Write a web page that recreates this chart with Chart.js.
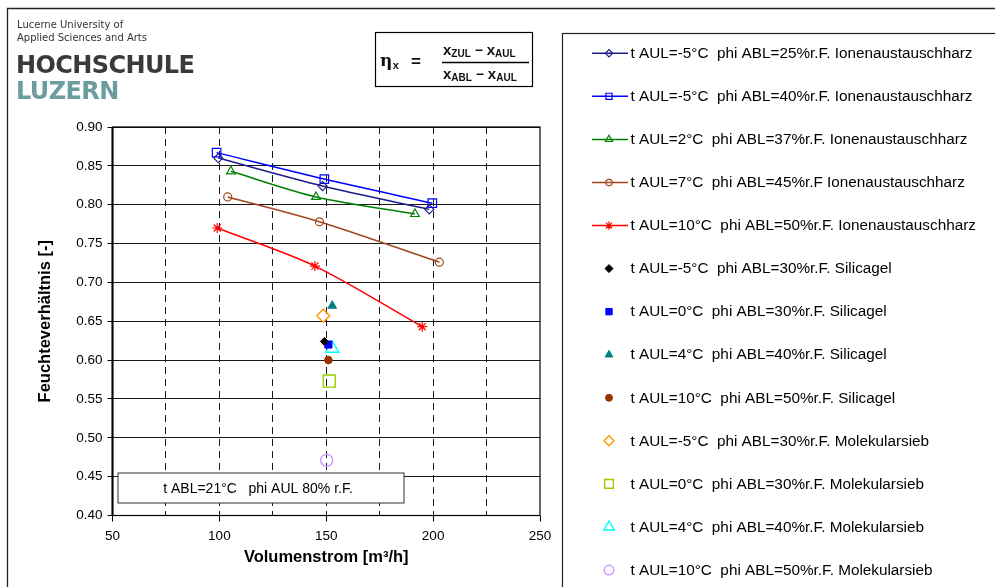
<!DOCTYPE html>
<html>
<head>
<meta charset="utf-8">
<script src="https://cdn.jsdelivr.net/npm/chart.js@4/dist/chart.umd.min.js"></script>
<style>
  html, body { margin: 0; padding: 0; background: #ffffff; }
  #wrap { position: relative; width: 995px; height: 587px; }
  canvas { display: block; }
</style>
</head>
<body>
<div id="wrap"><canvas id="chart" width="995" height="587"></canvas></div>
<script>
// Volumenstrom [m³/h] (x) and Feuchteverhältnis [-] (y) for each measurement series

// Ionenaustauschharz, measured at three flow rates
const ionA_x = [99.5, 148.3, 198.2];   // t AUL=-5°C, phi ABL=25%
const ionA_y = [0.860, 0.824, 0.794];
const ionB_x = [98.7, 149.1, 199.6];   // t AUL=-5°C, phi ABL=40%
const ionB_y = [0.867, 0.833, 0.802];
const ionC_x = [105.4, 145.2, 191.5];  // t AUL=2°C, phi ABL=37%
const ionC_y = [0.843, 0.810, 0.788];
const ionD_x = [103.9, 146.8, 202.9];  // t AUL=7°C, phi ABL=45%
const ionD_y = [0.810, 0.778, 0.726];
const ionE_x = [99.0, 144.7, 194.9];   // t AUL=10°C, phi ABL=50%
const ionE_y = [0.770, 0.721, 0.643];

// Silicagel, single measurements
const silA = [149.1, 0.624];  // -5°C / 30%
const silB = [151.0, 0.620];  // 0°C / 30%
const silC = [152.8, 0.670];  // 4°C / 40%
const silD = [151.0, 0.600];  // 10°C / 50%

// Molekularsieb, single measurements
const molA = [148.6, 0.657];  // -5°C / 30%
const molB = [151.4, 0.573];  // 0°C / 30%
const molC = [152.8, 0.615];  // 4°C / 40%
const molD = [150.2, 0.471];  // 10°C / 50%

const seriesLabels = [
  't AUL=-5°C  phi ABL=25%r.F. Ionenaustauschharz',
  't AUL=-5°C  phi ABL=40%r.F. Ionenaustauschharz',
  't AUL=2°C  phi ABL=37%r.F. Ionenaustauschharz',
  't AUL=7°C  phi ABL=45%r.F Ionenaustauschharz',
  't AUL=10°C  phi ABL=50%r.F. Ionenaustauschharz',
  't AUL=-5°C  phi ABL=30%r.F. Silicagel',
  't AUL=0°C  phi ABL=30%r.F. Silicagel',
  't AUL=4°C  phi ABL=40%r.F. Silicagel',
  't AUL=10°C  phi ABL=50%r.F. Silicagel',
  't AUL=-5°C  phi ABL=30%r.F. Molekularsieb',
  't AUL=0°C  phi ABL=30%r.F. Molekularsieb',
  't AUL=4°C  phi ABL=40%r.F. Molekularsieb',
  't AUL=10°C  phi ABL=50%r.F. Molekularsieb'
];

const xTickMin = 50, xTickMax = 250, xGridStep = 25, xLabelStep = 50;
const yTickMin = 0.40, yTickMax = 0.90, yTickStep = 0.05;

const xAxisTitle = 'Volumenstrom [m³/h]';
const yAxisTitle = 'Feuchteverhältnis [-]';
const noteText = 't ABL=21°C   phi AUL 80% r.F.';

const pts = (xs, ys) => xs.map((x, i) => ({ x: x, y: ys[i] }));
const one = (p) => [{ x: p[0], y: p[1] }];

function lineSeries(label, data, color, style, radius, legendRadius) {
  return {
    label, data, showLine: true, tension: 0.3,
    borderColor: color, borderWidth: 1.5,
    pointStyle: style, pointRadius: radius, pointHoverRadius: radius,
    pointBorderColor: color, pointBackgroundColor: 'rgba(255,255,255,0)',
    pointBorderWidth: 1.2, legendRadius, legendFill: 'rgba(255,255,255,0)'
  };
}
function markerSeries(label, data, color, style, radius, legendRadius, filled) {
  const fill = filled ? color : 'rgba(255,255,255,0)';
  return {
    label, data, showLine: false,
    borderColor: color, backgroundColor: fill,
    pointStyle: style, pointRadius: radius, pointHoverRadius: radius,
    pointBorderColor: color, pointBackgroundColor: fill,
    pointBorderWidth: filled ? 1 : 1.4, legendRadius, legendFill: fill
  };
}

const datasets = [
  lineSeries(seriesLabels[0], pts(ionA_x, ionA_y), '#1c1c8c', 'rectRot', 4.5, 3.6),
  lineSeries(seriesLabels[1], pts(ionB_x, ionB_y), '#0000ff', 'rect', 6, 4.4),
  lineSeries(seriesLabels[2], pts(ionC_x, ionC_y), '#008000', 'triangle', 5, 4.2),
  lineSeries(seriesLabels[3], pts(ionD_x, ionD_y), '#a0461e', 'circle', 4, 3.2),
  lineSeries(seriesLabels[4], pts(ionE_x, ionE_y), '#ff0000', 'star', 5, 4.2),
  markerSeries(seriesLabels[5], one(silA), '#000000', 'rectRot', 4, 4, true),
  markerSeries(seriesLabels[6], one(silB), '#0000ff', 'rect', 5, 4.5, true),
  markerSeries(seriesLabels[7], one(silC), '#008080', 'triangle', 5, 4.5, true),
  markerSeries(seriesLabels[8], one(silD), '#993300', 'circle', 3.8, 3.5, true),
  markerSeries(seriesLabels[9], one(molA), '#ff9900', 'rectRot', 6.5, 5, false),
  markerSeries(seriesLabels[10], one(molB), '#99cc00', 'rect', 8.5, 6.2, false),
  markerSeries(seriesLabels[11], one(molC), '#00ffff', 'triangle', 7.5, 6, false),
  markerSeries(seriesLabels[12], one(molD), '#cc99ff', 'circle', 6, 4.8, false)
];

const FONT = '"Liberation Sans", Arial, sans-serif';

// Frame of the plot area and the small note box inside it
const plotFrame = {
  id: 'plotFrame',
  beforeDatasetsDraw(chart) {
    const { ctx, chartArea: a } = chart;
    ctx.save();
    // note box
    const bx = a.left + 5.5, by = a.bottom - 42.5, bw = 286, bh = 30;
    ctx.fillStyle = '#ffffff';
    ctx.fillRect(bx, by, bw, bh);
    ctx.strokeStyle = '#333333';
    ctx.lineWidth = 1;
    ctx.strokeRect(bx, by, bw, bh);
    ctx.fillStyle = '#000000';
    ctx.font = '14px ' + FONT;
    ctx.textAlign = 'center';
    ctx.textBaseline = 'middle';
    ctx.fillText(noteText, bx + bw / 2 - 3, by + bh / 2 + 1);
    // plot border
    ctx.strokeStyle = '#000000';
    ctx.lineWidth = 1.2;
    ctx.strokeRect(a.left, a.top, a.right - a.left, a.bottom - a.top);
    ctx.lineWidth = 2;
    ctx.beginPath();
    ctx.moveTo(a.left, a.top);
    ctx.lineTo(a.left, a.bottom);
    ctx.stroke();
    ctx.restore();
  }
};

function fallbackPoint(ctx, o, x, y) {
  ctx.beginPath();
  ctx.arc(x, y, o.radius, 0, Math.PI * 2);
  ctx.fill();
  ctx.stroke();
}

// Header (logo, formula), outer frame and the series legend
const decorations = {
  id: 'decorations',
  afterDraw(chart) {
    const ctx = chart.ctx;
    ctx.save();
    // outer frame (left and top edges)
    ctx.strokeStyle = '#222222';
    ctx.lineWidth = 1.3;
    ctx.beginPath();
    ctx.moveTo(7.5, 587);
    ctx.lineTo(7.5, 8.5);
    ctx.lineTo(995, 8.5);
    ctx.stroke();

    // logo
    ctx.fillStyle = '#333333';
    ctx.textAlign = 'left';
    ctx.textBaseline = 'alphabetic';
    ctx.font = '10px "DejaVu Sans", sans-serif';
    ctx.fillText('Lucerne University of', 17, 28);
    ctx.fillText('Applied Sciences and Arts', 17, 41);
    ctx.font = 'bold 24px "DejaVu Sans", sans-serif';
    ctx.letterSpacing = '-0.6px';
    ctx.fillStyle = '#3a3a3a';
    ctx.fillText('HOCHSCHULE', 16, 73);
    ctx.fillStyle = '#6c9c9e';
    ctx.fillText('LUZERN', 16, 99);
    ctx.letterSpacing = '0px';

    // formula box
    ctx.strokeStyle = '#000000';
    ctx.lineWidth = 1.2;
    ctx.strokeRect(375.5, 32.5, 157, 54);
    ctx.fillStyle = '#111111';
    const run = (parts, x, y) => {
      let cx = x;
      parts.forEach(p => {
        ctx.font = 'bold ' + p[1] + 'px ' + FONT;
        ctx.fillText(p[0], cx, y + (p[2] || 0));
        cx += ctx.measureText(p[0]).width;
      });
      return cx - x;
    };
    ctx.font = 'bold 17px "DejaVu Serif", serif';
    ctx.fillText('η', 380, 66);
    const etaW = ctx.measureText('η').width;
    ctx.font = 'bold 11px ' + FONT;
    ctx.fillText('x', 380 + etaW + 0.5, 69);
    ctx.font = 'bold 17px ' + FONT;
    ctx.fillText('=', 411, 67);
    const num = [['x', 15], ['ZUL', 10, 2], [' − ', 14], ['x', 15], ['AUL', 10, 2]];
    const den = [['x', 15], ['ABL', 10, 2], [' − ', 14], ['x', 15], ['AUL', 10, 2]];
    ctx.textAlign = 'left';
    run(num, 443, 55);
    run(den, 443, 79);
    ctx.lineWidth = 1.4;
    ctx.beginPath();
    ctx.moveTo(442, 62.5);
    ctx.lineTo(529, 62.5);
    ctx.stroke();

    // legend
    ctx.strokeStyle = '#222222';
    ctx.lineWidth = 1.2;
    ctx.strokeRect(562.5, 33.5, 460, 600);
    const dp = (Chart.helpers && Chart.helpers.drawPoint) ? Chart.helpers.drawPoint : fallbackPoint;
    chart.data.datasets.forEach((ds, i) => {
      const y = 53.3 + i * 43.06;
      if (ds.showLine) {
        ctx.strokeStyle = ds.borderColor;
        ctx.lineWidth = 1.5;
        ctx.beginPath();
        ctx.moveTo(592, y);
        ctx.lineTo(628, y);
        ctx.stroke();
      }
      ctx.strokeStyle = ds.pointBorderColor;
      ctx.fillStyle = ds.legendFill;
      ctx.lineWidth = ds.pointBorderWidth;
      dp(ctx, { pointStyle: ds.pointStyle, rotation: 0, radius: ds.legendRadius, borderWidth: ds.pointBorderWidth }, 609, y);
      ctx.fillStyle = '#000000';
      ctx.font = '15.3px ' + FONT;
      ctx.textAlign = 'left';
      ctx.textBaseline = 'middle';
      ctx.fillText(ds.label, 630.5, y + 0.5);
    });
    ctx.restore();
  }
};

new Chart(document.getElementById('chart'), {
  type: 'scatter',
  data: { datasets },
  options: {
    responsive: false,
    animation: false,
    events: [],
    layout: { padding: { left: 0, top: 127, right: 455, bottom: 0 } },
    plugins: { legend: { display: false }, tooltip: { enabled: false } },
    scales: {
      x: {
        type: 'linear',
        min: xTickMin, max: xTickMax,
        afterFit(s) { s.height = 71.5; },
        ticks: {
          stepSize: xGridStep,
          autoSkip: false,
          maxRotation: 0,
          padding: 7,
          color: '#000000',
          font: { family: FONT, size: 13.5 },
          callback: (v) => (v % xLabelStep === 0 ? String(v) : '')
        },
        grid: {
          color: (c) => (c.tick && (c.tick.value === xTickMin || c.tick.value === xTickMax) ? 'rgba(0,0,0,0)' : '#1a1a1a'),
          lineWidth: 1,
          tickLength: 6,
          tickColor: (c) => (c.tick && c.tick.value % xLabelStep === 0 ? '#000000' : 'rgba(0,0,0,0)')
        },
        border: { display: false, dash: [7, 5] },
        title: {
          display: true, text: xAxisTitle, color: '#000000',
          font: { family: FONT, size: 16.5, weight: 'bold' },
          padding: { top: 0, bottom: 20 }
        }
      },
      y: {
        type: 'linear',
        min: yTickMin, max: yTickMax,
        afterFit(s) { s.width = 112.5; },
        ticks: {
          stepSize: yTickStep,
          padding: 5,
          color: '#000000',
          font: { family: FONT, size: 13.5 },
          callback: (v) => Number(v).toFixed(2)
        },
        grid: { color: '#1a1a1a', lineWidth: 1, tickLength: 5, tickColor: '#000000' },
        border: { display: false },
        title: {
          display: true, text: yAxisTitle, color: '#000000',
          font: { family: FONT, size: 16.5, weight: 'bold' },
          padding: { top: 36, bottom: 0 }
        }
      }
    }
  },
  plugins: [plotFrame, decorations]
});
</script>
</body>
</html>
